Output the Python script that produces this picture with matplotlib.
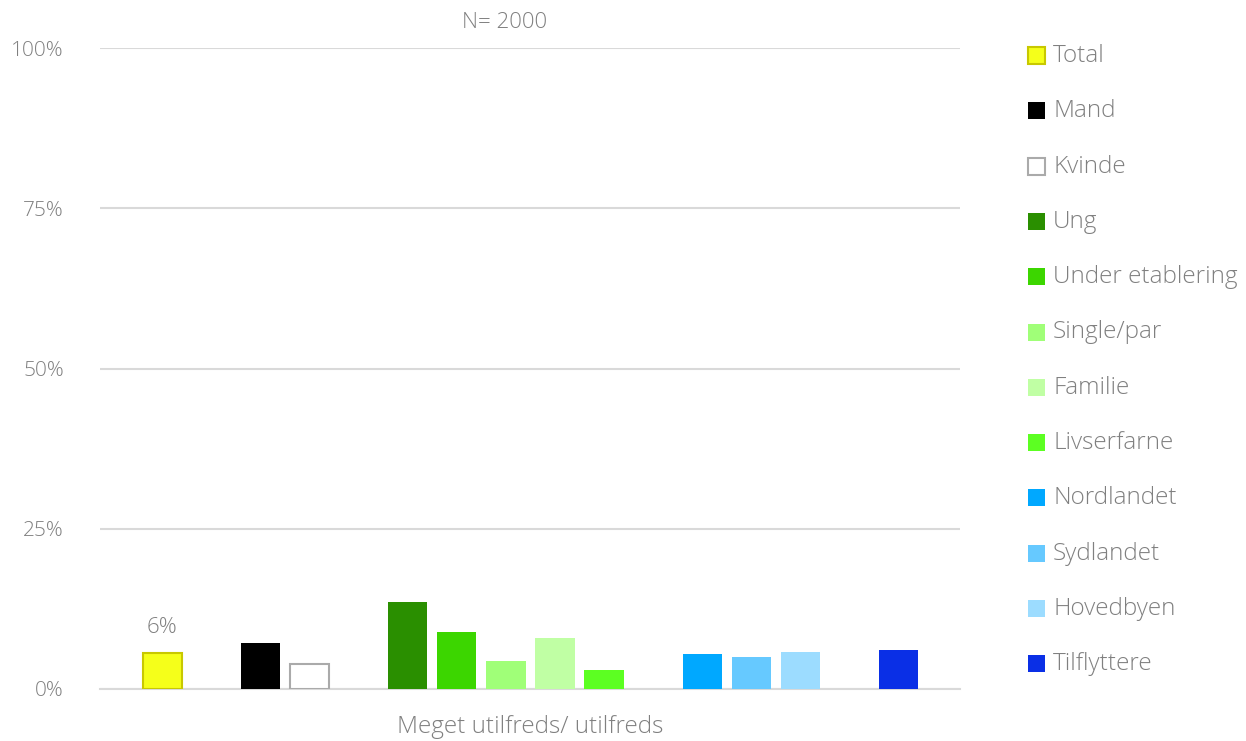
import matplotlib
matplotlib.use("Agg")
import matplotlib.pyplot as plt
from matplotlib.patches import Rectangle

categories = ["Total", "Mand", "Kvinde", "Ung", "Under etablering", "Single/par",
              "Familie", "Livserfarne", "Nordlandet", "Sydlandet", "Hovedbyen", "Tilflyttere"]
values = [5.6, 7.2, 3.9, 13.6, 8.9, 4.4, 8.0, 3.0, 5.5, 5.0, 5.8, 6.1]
slots = [0, 2, 3, 5, 6, 7, 8, 9, 11, 12, 13, 15]
colors = ["#F5FF1A", "#000000", "#FFFFFF", "#2A8F00", "#3CD600", "#A0FF78",
          "#C0FFA4", "#5CFF22", "#00A8FF", "#66C9FF", "#9CDCFF", "#0A2FE6"]
edges = ["#C8C800", "#000000", "#AAAAAA", "#2A8F00", "#3CD600", "#A0FF78",
         "#C0FFA4", "#5CFF22", "#00A8FF", "#66C9FF", "#9CDCFF", "#0A2FE6"]
yticks = [0, 25, 50, 75, 100]
ytick_labels = ["0%", "25%", "50%", "75%", "100%"]
xlabel = "Meget utilfreds/ utilfreds"
title = "N= 2000"

FONT = "Open Sans"
TXT = "#808080"
plt.rcParams["font.family"] = [FONT, "DejaVu Sans"]

W, H = 1246, 741
fig = plt.figure(figsize=(W / 100, H / 100), dpi=100)
ax = fig.add_axes([100 / W, 1 - 689 / H, 860 / W, 641 / H])

for s, v, c, e in zip(slots, values, colors, edges):
    lw = 1.5 if c in ("#F5FF1A", "#FFFFFF") else 0
    ax.bar(s, v, width=0.8, color=c, edgecolor=e, linewidth=lw, zorder=3)

ax.set_xlim(-1.27, 16.25)
ax.set_ylim(0, 100)
ax.set_yticks(yticks)
ax.set_yticklabels(ytick_labels, fontsize=15, color=TXT, fontweight="light")
ax.tick_params(axis="y", length=0, pad=26)
ax.set_xticks([])
ax.grid(axis="y", color="#D9D9D9", linewidth=1.5, zorder=0)
for sp in ["top", "right", "left"]:
    ax.spines[sp].set_visible(False)
ax.spines["bottom"].set_color("#D9D9D9")
ax.spines["bottom"].set_linewidth(1.5)

ax.text(slots[0], values[0] + 2.3, f"{values[0]:.0f}%", ha="center", va="bottom",
        fontsize=16, color=TXT, fontweight="light")

fig.text(505 / W, 1 - 22 / H, title, ha="center", va="center", fontsize=16,
         color=TXT, fontweight="light")
fig.text(530 / W, 1 - 727 / H, xlabel, ha="center", va="center", fontsize=17.5,
         color=TXT, fontweight="light")

# legend
y0, dy = 55, 55.3
for i, (lab, c, e) in enumerate(zip(categories, colors, edges)):
    yc = y0 + i * dy
    lw = 1.5 if c in ("#F5FF1A", "#FFFFFF") else 0
    fig.patches.append(Rectangle((1028 / W, 1 - (yc + 9) / H), 17 / W, 17 / H,
                                 transform=fig.transFigure, facecolor=c,
                                 edgecolor=e, linewidth=lw))
    fig.text(1053 / W, 1 - (yc + 1) / H, lab, ha="left", va="center", fontsize=17.5,
             color=TXT, fontweight="light")

fig.savefig("out.png", dpi=100)
